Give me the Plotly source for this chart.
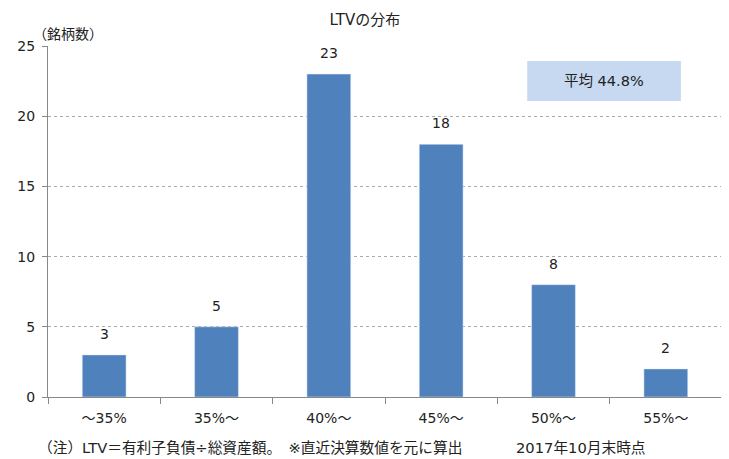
import plotly.graph_objects as go

categories = ["～35%", "35%～", "40%～", "45%～", "50%～", "55%～"]
counts = [3, 5, 23, 18, 8, 2]
y_ticks = [0, 5, 10, 15, 20, 25]
title_text = "LTVの分布"
y_unit = "（銘柄数）"
avg_text = "平均 44.8%"
note_text = "（注）LTV＝有利子負債÷総資産額。　※直近決算数値を元に算出"
date_text = "2017年10月末時点"

FONT = "DejaVu Sans, Noto Sans CJK JP"
fig = go.Figure()
fig.add_trace(go.Bar(x=categories, y=counts, marker_color="#4F81BD", width=0.39,
                     hoverinfo="skip"))
for c, v in zip(categories, counts):
    fig.add_annotation(x=c, y=v, text=str(v), showarrow=False, yanchor="bottom",
                       yshift=11, font=dict(size=14, color="#222"))

fig.add_shape(type="rect", xref="paper", yref="paper", x0=0.711, x1=0.939, y0=0.843, y1=0.957,
              fillcolor="#C6D9F1", line_width=0, layer="above")
fig.add_annotation(xref="paper", yref="paper", x=0.825, y=0.9, text=avg_text, showarrow=False,
                   xanchor="center", yanchor="middle", font=dict(size=14.5, color="#222"))

fig.add_annotation(xref="paper", yref="paper", x=-0.025, y=1.005, text=y_unit, showarrow=False,
                   xanchor="left", yanchor="bottom", font=dict(size=14, color="#222"))
fig.add_annotation(xref="paper", yref="paper", x=-0.018, y=-0.145, text=note_text, showarrow=False,
                   xanchor="left", yanchor="middle", font=dict(size=14.7, color="#222"))
fig.add_annotation(xref="paper", yref="paper", x=0.692, y=-0.145, text=date_text, showarrow=False,
                   xanchor="left", yanchor="middle", font=dict(size=14.7, color="#222"))

fig.update_layout(
    width=721, height=451,
    margin=dict(l=40, r=7, t=38, b=62, autoexpand=False),
    plot_bgcolor="white", paper_bgcolor="white",
    font=dict(family=FONT, size=14, color="#222"),
    title=dict(text=title_text, x=0.495, xanchor="center", xref="container", y=0.973, yanchor="middle",
               font=dict(size=15, color="#222")),
    showlegend=False, bargap=0.6,
)
fig.update_xaxes(type="category", showline=True, linecolor="#888", linewidth=1,
                 ticks="outside", tickson="boundaries", ticklen=6, tickcolor="#888",
                 ticklabelstandoff=8, tickfont=dict(size=14), showgrid=False, automargin=False)
fig.update_yaxes(range=[0, 25], tickvals=y_ticks, showline=True, linecolor="#888", linewidth=1,
                 ticks="outside", ticklen=5, tickcolor="#888", showgrid=True,
                 gridcolor="#aaa", griddash="dot", gridwidth=1, zeroline=False,
                 tickfont=dict(size=14), ticklabelstandoff=4, automargin=False)

fig.write_html("out.html")
